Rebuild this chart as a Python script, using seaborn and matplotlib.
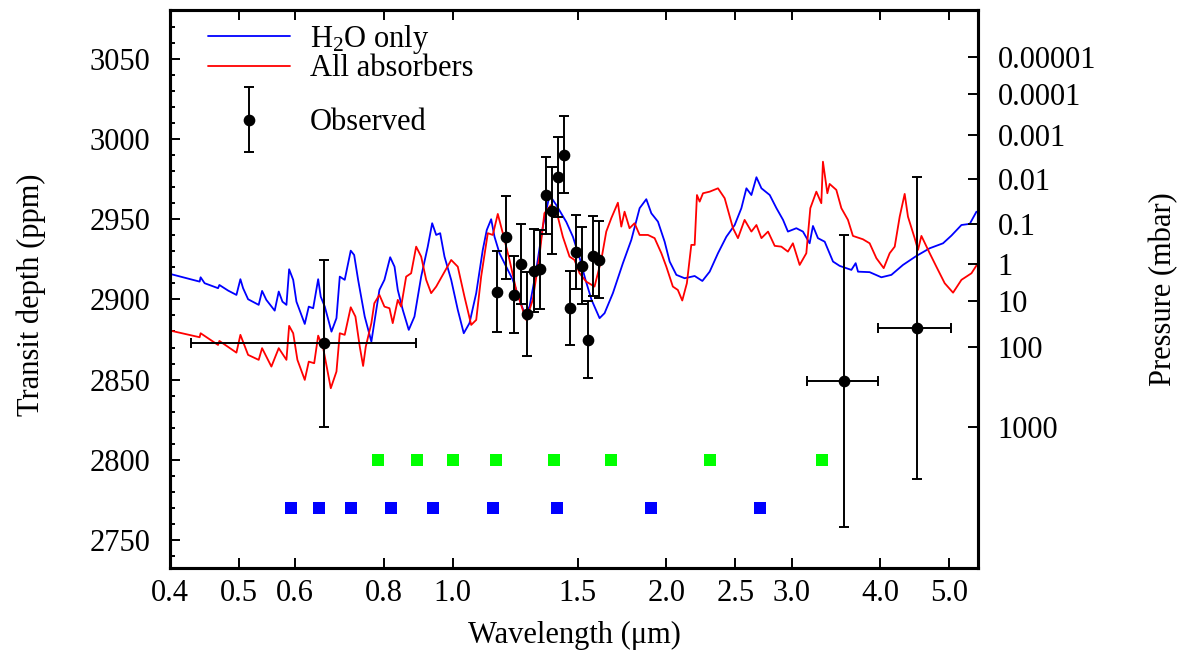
"""
Transmission spectrum: model spectra (H2O only / all absorbers) vs observed transit depths.
"""

import matplotlib
matplotlib.use("Agg")
import matplotlib.pyplot as plt
from matplotlib.ticker import NullLocator, MultipleLocator
from matplotlib.legend_handler import HandlerErrorbar
from matplotlib.container import ErrorbarContainer
import seaborn as sns

#  Model spectrum: H2O only (wavelength in um, depth in ppm)
h2o_wl = [0.4017, 0.4403, 0.4417, 0.4475, 0.4674, 0.4694, 0.4829, 0.4961, 0.5025, 0.5069,
          0.5152, 0.5332, 0.5391, 0.5466, 0.5616, 0.5690, 0.5759, 0.5834, 0.5885, 0.5963,
          0.6026, 0.6191, 0.6272, 0.6362, 0.6466, 0.6520, 0.6606, 0.6751, 0.6861, 0.6935,
          0.7047, 0.7186, 0.7266, 0.7360, 0.7519, 0.7683, 0.7767, 0.7886, 0.8015, 0.8166,
          0.8282, 0.8370, 0.8506, 0.8673, 0.8835, 0.9029, 0.9224, 0.9357, 0.9480, 0.9603,
          0.9738, 0.9952, 1.0167, 1.0366, 1.0560, 1.0793, 1.1025, 1.1169, 1.1329, 1.1452,
          1.1639, 1.1896, 1.2152, 1.2420, 1.2623, 1.2830, 1.3111, 1.3395, 1.3689, 1.3991,
          1.4453, 1.4766, 1.5090, 1.5382, 1.5687, 1.6100, 1.6362, 1.6810, 1.7365, 1.7844,
          1.8332, 1.8733, 1.9042, 1.9454, 1.9880, 2.0207, 2.0650, 2.1213, 2.1912, 2.2466,
          2.3005, 2.3633, 2.4285, 2.4948, 2.5495, 2.5915, 2.6337, 2.6771, 2.7208, 2.7951,
          2.8564, 2.9183, 2.9648, 3.0467, 3.1126, 3.1808, 3.2154, 3.2678, 3.3401, 3.4314,
          3.5065, 3.6420, 3.6928, 3.7210, 3.8640, 4.0135, 4.1460, 4.3050, 4.4963, 4.6946,
          4.9020, 5.0371, 5.2033, 5.3455, 5.4626]
h2o_depth = [2915.7, 2911.1, 2913.8, 2910.1, 2907.0, 2909.0, 2905.5, 2902.8, 2912.6, 2907.0,
             2900.1, 2896.6, 2905.3, 2899.7, 2893.0, 2904.9, 2898.6, 2896.6, 2918.8, 2912.2,
             2898.6, 2884.7, 2895.5, 2894.5, 2912.6, 2901.7, 2895.5, 2879.9, 2888.3, 2914.2,
             2912.2, 2930.4, 2927.7, 2912.2, 2889.3, 2873.7, 2887.2, 2905.9, 2912.2, 2926.3,
             2920.4, 2905.9, 2893.5, 2881.0, 2889.3, 2914.2, 2932.9, 2947.5, 2940.2, 2941.3,
             2926.7, 2912.2, 2893.5, 2878.9, 2885.2, 2903.9, 2930.9, 2943.3, 2950.0, 2939.1,
             2928.8, 2920.4, 2912.2, 2899.7, 2891.4, 2895.5, 2918.4, 2945.4, 2965.1, 2958.9,
             2948.3, 2939.1, 2925.9, 2912.2, 2899.7, 2888.3, 2891.4, 2903.9, 2922.6, 2937.1,
             2956.9, 2962.5, 2953.7, 2948.5, 2936.0, 2923.6, 2915.3, 2913.2, 2914.6, 2911.5,
             2917.3, 2928.8, 2939.1, 2946.4, 2956.9, 2969.3, 2965.1, 2976.2, 2969.3, 2965.1,
             2956.9, 2949.6, 2942.3, 2944.4, 2942.3, 2935.0, 2945.8, 2938.2, 2936.0, 2923.6,
             2920.9, 2918.4, 2922.6, 2917.3, 2917.0, 2913.8, 2915.3, 2921.5, 2927.1, 2931.9,
             2935.0, 2939.8, 2946.4, 2947.1, 2954.7]

#  Model spectrum: all absorbers
all_wl = [0.4017, 0.4403, 0.4417, 0.4674, 0.4694, 0.4961, 0.5025, 0.5152, 0.5332, 0.5391,
          0.5556, 0.5690, 0.5834, 0.5885, 0.5963, 0.6045, 0.6191, 0.6272, 0.6383, 0.6466,
          0.6572, 0.6736, 0.6861, 0.6935, 0.7047, 0.7186, 0.7296, 0.7399, 0.7480, 0.7545,
          0.7683, 0.7757, 0.7886, 0.8015, 0.8147, 0.8234, 0.8370, 0.8461, 0.8600, 0.8740,
          0.8884, 0.9029, 0.9177, 0.9326, 0.9480, 0.9685, 0.9952, 1.0167, 1.0390, 1.0619,
          1.0793, 1.0967, 1.1206, 1.1389, 1.1575, 1.1765, 1.2023, 1.2287, 1.2688, 1.2963,
          1.3246, 1.3462, 1.3757, 1.4060, 1.4292, 1.4605, 1.4843, 1.5090, 1.5417, 1.5838,
          1.6188, 1.6453, 1.6721, 1.7084, 1.7274, 1.7458, 1.7742, 1.8034, 1.8332, 1.8832,
          1.9245, 1.9670, 1.9990, 2.0417, 2.0749, 2.1048, 2.1366, 2.1675, 2.1912, 2.2076,
          2.2270, 2.2512, 2.3005, 2.3633, 2.4151, 2.4811, 2.5214, 2.5763, 2.6337, 2.6771,
          2.7208, 2.7797, 2.8404, 2.9023, 2.9648, 3.0130, 3.0796, 3.1470, 3.1881, 3.2509,
          3.3037, 3.3212, 3.3690, 3.3940, 3.4683, 3.5255, 3.6017, 3.6603, 3.7810, 3.8640,
          3.9495, 4.0442, 4.1232, 4.1912, 4.2594, 4.3287, 4.3752, 4.4713, 4.5198, 4.5701,
          4.6946, 4.7973, 4.9283, 5.0638, 5.2033, 5.3751, 5.4800]
all_depth = [2880.4, 2876.4, 2878.9, 2871.6, 2874.1, 2866.8, 2877.9, 2865.4, 2862.3, 2869.6,
             2858.1, 2869.6, 2862.3, 2883.5, 2878.9, 2862.3, 2849.8, 2861.2, 2860.2, 2877.4,
             2869.6, 2844.6, 2855.0, 2878.9, 2877.9, 2895.1, 2889.3, 2870.6, 2858.5, 2870.6,
             2885.2, 2897.6, 2902.8, 2895.5, 2894.5, 2885.2, 2899.7, 2895.5, 2914.2, 2916.3,
             2932.9, 2926.7, 2912.2, 2903.9, 2908.0, 2915.3, 2924.6, 2920.4, 2901.7, 2884.1,
             2887.2, 2914.2, 2941.3, 2940.2, 2953.3, 2941.3, 2924.6, 2905.9, 2887.2, 2899.7,
             2926.7, 2953.7, 2958.9, 2951.6, 2939.1, 2926.7, 2924.6, 2916.3, 2911.1, 2908.0,
             2924.6, 2942.3, 2950.6, 2960.3, 2945.4, 2954.7, 2944.4, 2947.5, 2940.2, 2940.2,
             2938.2, 2928.8, 2920.4, 2908.0, 2905.9, 2899.3, 2910.1, 2934.0, 2934.0, 2965.1,
             2961.0, 2966.2, 2967.2, 2969.3, 2963.1, 2944.4, 2938.2, 2949.6, 2942.3, 2946.4,
             2938.2, 2942.3, 2933.4, 2932.9, 2929.8, 2935.0, 2921.5, 2928.8, 2956.9, 2967.2,
             2960.0, 2985.9, 2966.2, 2972.0, 2968.3, 2956.9, 2949.6, 2939.6, 2937.5, 2935.0,
             2925.7, 2919.5, 2928.8, 2932.9, 2951.6, 2965.8, 2951.6, 2938.2, 2930.9, 2939.6,
             2928.8, 2920.4, 2910.1, 2904.2, 2912.2, 2916.3, 2922.1]

#  Observed: spectroscopic points
wfc3_wl = [1.154, 1.187, 1.218, 1.246, 1.272, 1.301, 1.329, 1.354, 1.381,
           1.408, 1.436, 1.464, 1.493, 1.520, 1.550, 1.575, 1.606]
wfc3_depth = [2904.9, 2938.8, 2902.8, 2921.9, 2891.0, 2918.0, 2918.8, 2965.0, 2955.4,
              2976.2, 2990.3, 2894.7, 2929.8, 2921.1, 2874.8, 2927.1, 2924.6]
wfc3_err = [25, 26, 24, 25, 26, 26, 24.5, 24, 27, 25, 24, 23, 23, 24, 24, 25, 24]

#  Observed: broadband points
broad_wl = [0.658, 3.56, 4.50]
broad_wl_err = [0.23, 0.41, 0.53]
broad_depth = [2872.7, 2849.2, 2882.2]
broad_err = [52, 91, 94]

#  Band markers
green_wl = [0.784, 0.890, 1.000, 1.150, 1.388, 1.670, 2.302, 3.311]
green_level = 2800
blue_wl = [0.593, 0.648, 0.719, 0.818, 0.938, 1.139, 1.401, 1.901, 2.707]
blue_level = 2770

#  Axis ticks
xtick_vals = [0.4, 0.5, 0.6, 0.8, 1.0, 1.5, 2.0, 2.5, 3.0, 4.0, 5.0]
xtick_labels = ["0.4", "0.5", "0.6", "0.8", "1.0", "1.5", "2.0", "2.5", "3.0", "4.0", "5.0"]
pressure_pos = [3051.0, 3027.9, 3002.6, 2975.1, 2947.1, 2921.9, 2899.1, 2870.6, 2820.7]
pressure_labels = ["0.00001", "0.0001", "0.001", "0.01", "0.1", "1", "10", "100", "1000"]

#  Style
sns.set_style("ticks")
plt.rcParams.update({
    "font.family": ["Liberation Serif", "DejaVu Serif"],
    "font.size": 22,
    "mathtext.fontset": "custom",
    "mathtext.rm": "Liberation Serif",
    "mathtext.it": "Liberation Serif:italic",
    "axes.linewidth": 2.2,
    "axes.edgecolor": "black",
    "xtick.color": "black",
    "ytick.color": "black",
    "text.color": "black",
    "axes.labelcolor": "black",
})

fig, ax = plt.subplots(figsize=(11.84, 6.53), dpi=100)
fig.subplots_adjust(left=0.1436, right=0.826, top=0.9847, bottom=0.1302)

sns.lineplot(x=h2o_wl, y=h2o_depth, color="#0000ff", lw=1.3, ax=ax,
             estimator=None, sort=False)
h2o_line = ax.lines[-1]
sns.lineplot(x=all_wl, y=all_depth, color="#ff0000", lw=1.3, ax=ax,
             estimator=None, sort=False)
all_line = ax.lines[-1]

sns.scatterplot(x=green_wl, y=[green_level] * len(green_wl), marker="s", s=63,
                color="#00ff00", linewidth=0, ax=ax, zorder=3)
sns.scatterplot(x=blue_wl, y=[blue_level] * len(blue_wl), marker="s", s=63,
                color="#0000ff", linewidth=0, ax=ax, zorder=3)

err_kw = dict(fmt="o", color="black", ms=7.4, elinewidth=1.4,
              capsize=3.8, capthick=1.4, zorder=4)
obs = ax.errorbar(wfc3_wl, wfc3_depth, yerr=wfc3_err, **err_kw)
ax.errorbar(broad_wl, broad_depth, yerr=broad_err, xerr=broad_wl_err, **err_kw)

ax.set_xscale("log")
ax.set_xlim(0.4, 5.49)
ax.set_ylim(2732.5, 3080.5)

ax.set_xticks(xtick_vals)
ax.set_xticklabels(xtick_labels)
ax.xaxis.set_minor_locator(NullLocator())
ax.set_yticks(range(2750, 3051, 50))
ax.yaxis.set_minor_locator(MultipleLocator(10))

ax.tick_params(which="major", direction="in", length=7, width=1.4, labelsize=22)
ax.tick_params(axis="x", top=True, pad=8)
ax.tick_params(axis="y", pad=14)
ax.tick_params(axis="y", which="minor", direction="in", length=3.6, width=1.4)

ax.set_xlabel("Wavelength (μm)")
ax.xaxis.set_label_coords(0.5, -0.094)
ax.set_ylabel("Transit depth (ppm)")
ax.yaxis.set_label_coords(-0.153, 0.49)

ax2 = ax.twinx()
ax2.set_ylim(ax.get_ylim())
ax2.set_yticks(pressure_pos)
ax2.set_yticklabels(pressure_labels)
ax2.yaxis.set_minor_locator(NullLocator())
ax2.tick_params(direction="in", length=7, width=1.4, pad=14, labelsize=22)
ax2.set_ylabel("Pressure (mbar)")
ax2.yaxis.set_label_coords(1.212, 0.5)
for sp in ax2.spines.values():
    sp.set_linewidth(2.2)

#  Legend
leg1 = ax.legend([h2o_line, all_line], ["H$_2$O only", "All absorbers"],
                 loc="upper left", bbox_to_anchor=(0.047, 0.977), frameon=False,
                 borderpad=0, borderaxespad=0, handlelength=2.68, handletextpad=0.65,
                 labelspacing=-0.05, fontsize=22)
ax.add_artist(leg1)
ax.legend([obs], ["Observed"], loc="upper left", bbox_to_anchor=(0.047, 0.824),
          frameon=False, borderpad=0, borderaxespad=0, handlelength=2.68,
          handletextpad=0.65, fontsize=22,
          handler_map={ErrorbarContainer: HandlerErrorbar(yerr_size=1.05)})

plt.savefig("out.png", dpi=100)
plt.close()
